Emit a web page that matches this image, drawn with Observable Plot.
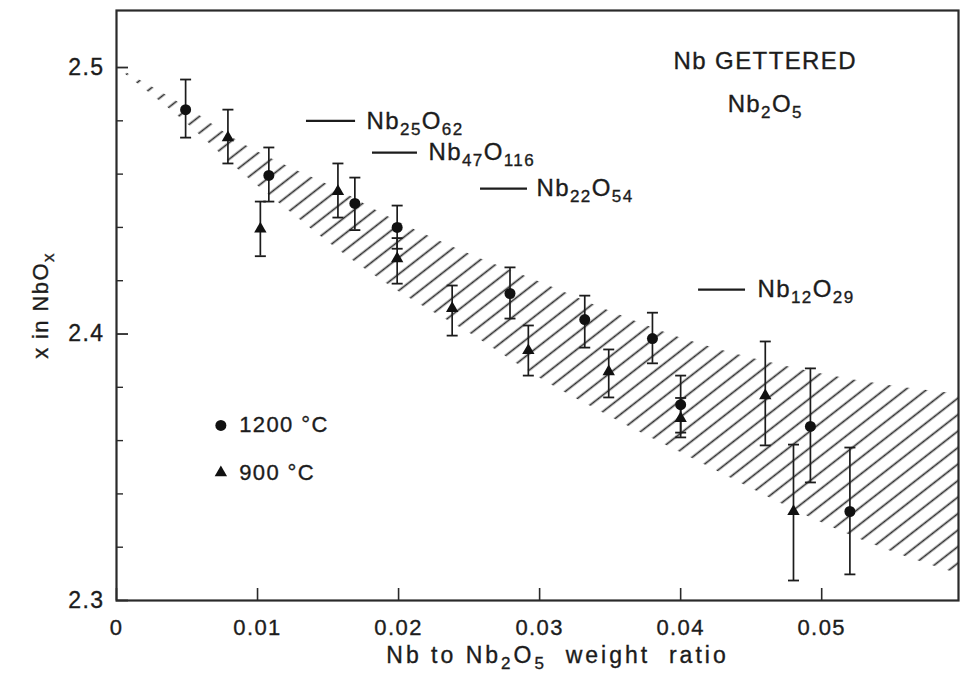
<!DOCTYPE html>
<html>
<head>
<meta charset="utf-8">
<script src="https://cdn.jsdelivr.net/npm/d3@7"></script>
<script src="https://cdn.jsdelivr.net/npm/@observablehq/plot@0.6"></script>
<style>
  body { margin: 0; background: #fff; }
  #chart svg text { font-family: "Liberation Sans", Arial, Helvetica, sans-serif; letter-spacing: 1.4px; stroke: #1c1c1c; stroke-width: 0.35px; }
</style>
</head>
<body>
<div id="chart"></div>
<script>
// Nb-gettered Nb2O5: oxygen content x in NbOx against Nb / Nb2O5 weight ratio

// 1200 °C anneals (circles)
const ratio1200 = [0.0049, 0.0108, 0.0169, 0.0199, 0.0279, 0.0332, 0.0380, 0.0400, 0.0492, 0.0520];
const x1200     = [2.4842, 2.4595, 2.4490, 2.4400, 2.4152, 2.4054, 2.3983, 2.3735, 2.3653, 2.3334];
const hi1200    = [2.4955, 2.4700, 2.4587, 2.4482, 2.4250, 2.4144, 2.4080, 2.3844, 2.3871, 2.3574];
const lo1200    = [2.4737, 2.4497, 2.4390, 2.4320, 2.4058, 2.3949, 2.3890, 2.3630, 2.3443, 2.3098];

// 900 °C anneals (triangles)
const ratio900 = [0.0079, 0.0102, 0.0157, 0.0199, 0.0238, 0.0292, 0.0349, 0.0400, 0.0460, 0.0480];
const x900     = [2.4737, 2.4394, 2.4535, 2.4283, 2.4096, 2.3938, 2.3859, 2.3683, 2.3769, 2.3334];
const hi900    = [2.4842, 2.4497, 2.4640, 2.4360, 2.4182, 2.4032, 2.3942, 2.3760, 2.3972, 2.3585];
const lo900    = [2.4640, 2.4292, 2.4437, 2.4189, 2.3994, 2.3844, 2.3762, 2.3612, 2.3582, 2.3075];

// Hatched band of the fitted composition range
const bandRatio = [0, 0.005, 0.009, 0.0125, 0.015, 0.02, 0.025, 0.03, 0.035, 0.04, 0.045, 0.05, 0.055, 0.0597];
const bandUpper = [2.5, 2.4850, 2.4712, 2.4620, 2.4560, 2.4420, 2.4300, 2.4195, 2.4085, 2.3985, 2.3910, 2.3850, 2.3805, 2.3775];
const bandLower = [2.5, 2.4790, 2.4600, 2.4450, 2.4345, 2.4160, 2.4005, 2.3835, 2.3690, 2.3555, 2.3420, 2.3292, 2.3183, 2.3100];

// Known oxide phases NbnOm, marked at x = m / n
const phaseNb    = [25, 47, 22, 12];
const phaseO     = [62, 116, 54, 29];
const phaseFrom  = [0.01347, 0.01815, 0.02581, 0.04127];
const phaseTo    = [0.01695, 0.02134, 0.02914, 0.04460];
const phaseLabelAt = [0.01773, 0.02212, 0.02978, 0.04545];

// Axes
const xTicks = [0, 0.01, 0.02, 0.03, 0.04, 0.05];
const xTickLabels = ["0", "0.01", "0.02", "0.03", "0.04", "0.05"];
const yTicks = [2.3, 2.4, 2.5];
const yTickLabels = ["2.3", "2.4", "2.5"];
const yMinorTicks = [2.32, 2.34, 2.36, 2.38, 2.42, 2.44, 2.46, 2.48];
const xTitle = "Nb to Nb_{2}O_{5}  weight  ratio";
const yTitle = "x in NbO_{x}";

// Legend
const legendLabels = ["1200 °C", "900 °C"];
const legendSymbols = ["circle", "triangle"];
const legendX = [2.3657, 2.3480];

const ink = "#1c1c1c";

const s1200 = ratio1200.map((r, i) => ({ratio: r, x: x1200[i], hi: hi1200[i], lo: lo1200[i]}));
const s900 = ratio900.map((r, i) => ({ratio: r, x: x900[i], hi: hi900[i], lo: lo900[i]}));
const all = s1200.concat(s900);
const band = bandRatio.map((r, i) => ({ratio: r, hi: bandUpper[i], lo: bandLower[i]}));
const phases = phaseNb.map((n, i) => ({
  label: `Nb_{${n}}O_{${phaseO[i]}}`,
  x: phaseO[i] / n,
  from: phaseFrom[i], to: phaseTo[i], at: phaseLabelAt[i]
}));
const legend = legendLabels.map((label, i) => ({label, symbol: legendSymbols[i], ratio: 0.0074, x: legendX[i]}));

// horizontal bar used as an error-bar cap
const cap = {draw(ctx, size) { const w = Math.sqrt(size / Math.PI); ctx.moveTo(-w, 0); ctx.lineTo(w, 0); }};

const plot = Plot.plot({
  width: 976,
  height: 678,
  marginLeft: 116,
  marginRight: 18,
  marginTop: 10,
  marginBottom: 78,
  style: {fontFamily: '"Liberation Sans", Arial, sans-serif', fontSize: "22px", color: ink, background: "#fff"},
  x: {domain: [0, 0.0597]},
  y: {domain: [2.3, 2.5214]},
  marks: [
    Plot.areaY(band, {x: "ratio", y1: "lo", y2: "hi", fill: "url(#hatch)", curve: "monotone-x"}),
    Plot.frame({stroke: "#2a2a2a", strokeWidth: 2.2}),
    // tick labels
    Plot.axisX({ticks: xTicks, tickSize: 0, tickPadding: 19, tickFormat: (d, i) => xTickLabels[i], label: null, fontSize: 22}),
    Plot.axisY({ticks: yTicks, tickSize: 0, tickPadding: 12, tickFormat: (d, i) => yTickLabels[i], label: null, fontSize: 23}),
    // inward tick marks
    Plot.axisX({ticks: xTicks, tickSize: -12, tickFormat: () => "", label: null, stroke: "#2a2a2a", strokeWidth: 1.6}),
    Plot.axisY({ticks: yTicks, tickSize: -12, tickFormat: () => "", label: null, stroke: "#2a2a2a", strokeWidth: 1.8}),
    Plot.axisY({ticks: yMinorTicks, tickSize: -7, tickFormat: () => "", label: null, stroke: "#2a2a2a", strokeWidth: 1.4}),
    // axis titles
    Plot.text([xTitle], {frameAnchor: "bottom", dx: 20, dy: 62, fontSize: 23, fill: ink}),
    Plot.text([yTitle], {frameAnchor: "left", textAnchor: "middle", dx: -76, rotate: -90, fontSize: 22, fill: ink}),
    // error bars
    Plot.ruleX(all, {x: "ratio", y1: "lo", y2: "hi", stroke: ink, strokeWidth: 1.7}),
    Plot.dot(all, {x: "ratio", y: "hi", symbol: cap, r: 5.5, stroke: ink, strokeWidth: 1.8}),
    Plot.dot(all, {x: "ratio", y: "lo", symbol: cap, r: 5.5, stroke: ink, strokeWidth: 1.8}),
    // data points
    Plot.dot(s1200, {x: "ratio", y: "x", symbol: "circle", r: 5.5, fill: "#111", stroke: null}),
    Plot.dot(s900, {x: "ratio", y: "x", symbol: "triangle", r: 4.6, fill: "#111", stroke: null}),
    // oxide phase markers
    Plot.ruleY(phases, {y: "x", x1: "from", x2: "to", stroke: ink, strokeWidth: 2.2}),
    Plot.text(phases, {x: "at", y: "x", text: "label", textAnchor: "start", fontSize: 24, fill: ink}),
    // sample label
    Plot.text(["Nb GETTERED"], {x: 0.0460, y: 2.5023, fontSize: 24, fill: ink}),
    Plot.text(["Nb_{2}O_{5}"], {x: 0.0460, y: 2.4861, fontSize: 24, fill: ink}),
    // legend
    Plot.dot(legend.slice(0, 1), {x: "ratio", y: "x", symbol: "symbol", r: 5.5, fill: "#111", stroke: null}),
    Plot.dot(legend.slice(1), {x: "ratio", y: "x", symbol: "symbol", r: 4.6, fill: "#111", stroke: null}),
    Plot.text(legend, {x: 0.0087, y: "x", text: "label", textAnchor: "start", fontSize: 22, fill: ink})
  ]
});

// hatch pattern for the band
const svg = plot.tagName.toLowerCase() === "svg" ? plot : plot.querySelector("svg");
const NS = "http://www.w3.org/2000/svg";
const defs = document.createElementNS(NS, "defs");
defs.innerHTML = `<pattern id="hatch" patternUnits="userSpaceOnUse" width="13" height="13" patternTransform="rotate(-38)">
  <line x1="0" y1="6.5" x2="13" y2="6.5" stroke="#2e2e2e" stroke-width="1.7"/></pattern>`;
svg.insertBefore(defs, svg.firstChild);
svg.querySelectorAll('g[aria-label="area"] path').forEach(p => p.setAttribute("fill", "url(#hatch)"));

// turn _{..} markup into lowered, smaller tspans
svg.querySelectorAll("text").forEach(t => {
  const s = t.textContent;
  if (!s.includes("_{")) return;
  const fs = parseFloat(t.getAttribute("font-size") || getComputedStyle(t).fontSize) || 22;
  const shift = Math.round(fs * 0.25);
  t.textContent = "";
  // the x-axis title is set with wider letter spacing
  if (s === xTitle) t.style.letterSpacing = "3px";
  let lowered = false;
  for (const part of s.split(/(_\{[^}]*\})/)) {
    if (!part) continue;
    const ts = document.createElementNS(NS, "tspan");
    if (part.startsWith("_{")) {
      ts.textContent = part.slice(2, -1);
      ts.setAttribute("font-size", Math.round(fs * 0.76));
      if (!lowered) { ts.setAttribute("dy", shift); lowered = true; }
    } else {
      ts.textContent = part;
      if (lowered) { ts.setAttribute("dy", -shift); lowered = false; }
    }
    t.appendChild(ts);
  }
});

document.getElementById("chart").appendChild(plot);
</script>
</body>
</html>
